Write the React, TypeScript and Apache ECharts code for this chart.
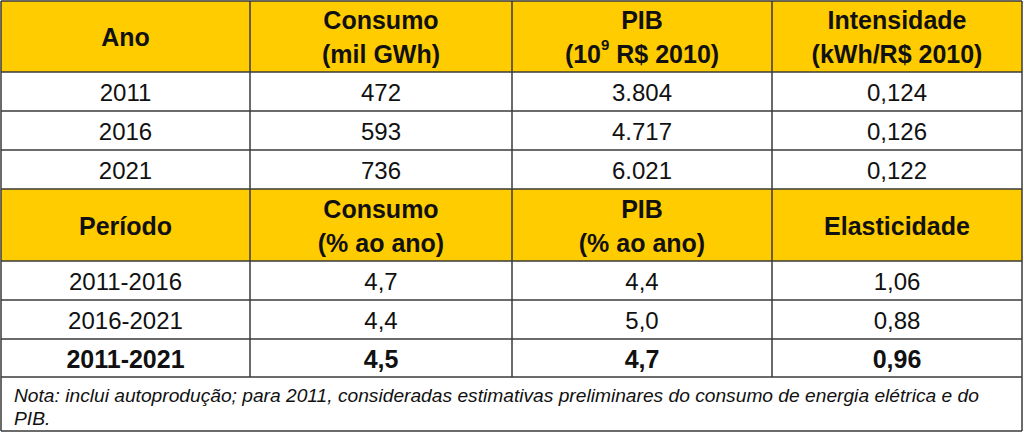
import React, { useEffect, useRef } from 'react';
import * as echarts from 'echarts';

const headerTop = ['Ano', 'Consumo\n(mil GWh)', 'PIB\n(10{sup|9} R$ 2010)', 'Intensidade\n(kWh/R$ 2010)'];
const years = ['2011', '2016', '2021'];
const consumo = ['472', '593', '736'];
const pib = ['3.804', '4.717', '6.021'];
const intensidade = ['0,124', '0,126', '0,122'];
const headerBottom = ['Período', 'Consumo\n(% ao ano)', 'PIB\n(% ao ano)', 'Elasticidade'];
const periods = ['2011-2016', '2016-2021', '2011-2021'];
const consumoPct = ['4,7', '4,4', '4,5'];
const pibPct = ['4,4', '5,0', '4,7'];
const elasticidade = ['1,06', '0,88', '0,96'];
const boldRows = [false, false, true];
const noteLines = [
  'Nota: inclui autoprodução; para 2011, consideradas estimativas preliminares do consumo de energia elétrica e do',
  'PIB.',
];

const colX = [1, 250, 512, 772, 1022];
const rowY = [1, 72, 111, 150, 189, 261, 300, 339, 377, 431];
const YELLOW = '#FFCC00';
const LINE = '#3a3a3a';
const FONT = '"Liberation Sans", Arial, Helvetica, sans-serif';

export default function App() {
  const ref = useRef<HTMLDivElement>(null);
  useEffect(() => {
    if (!ref.current) return;
    const chart = echarts.init(ref.current, undefined, { renderer: 'svg' });
    const els: any[] = [];
    const left = colX[0];
    const right = colX[colX.length - 1];
    els.push({ type: 'rect', shape: { x: left, y: rowY[0], width: right - left, height: rowY[1] - rowY[0] }, style: { fill: YELLOW } });
    els.push({ type: 'rect', shape: { x: left, y: rowY[4], width: right - left, height: rowY[5] - rowY[4] }, style: { fill: YELLOW } });

    const cx = (i: number) => (colX[i] + colX[i + 1]) / 2;
    const cy = (r: number) => (rowY[r] + rowY[r + 1]) / 2;

    const headerText = (txt: string, col: number, row: number) => ({
      type: 'text',
      x: cx(col),
      y: cy(row) + 0.5,
      style: {
        text: txt,
        fill: '#111',
        font: `bold 25px ${FONT}`,
        align: 'center',
        verticalAlign: 'middle',
        lineHeight: 34,
        rich: {
          sup: { font: `bold 15px ${FONT}`, fill: '#111', verticalAlign: 'top', lineHeight: 18 },
        },
      },
    });
    headerTop.forEach((t, i) => els.push(headerText(t, i, 0)));
    headerBottom.forEach((t, i) => els.push(headerText(t, i, 4)));

    const cellText = (txt: string, col: number, row: number, bold: boolean) => ({
      type: 'text',
      x: cx(col),
      y: cy(row) + 1,
      style: {
        text: txt,
        fill: '#111',
        font: `${bold ? 'bold 25px' : '24px'} ${FONT}`,
        align: 'center',
        verticalAlign: 'middle',
      },
    });
    years.forEach((y, r) => {
      els.push(cellText(y, 0, 1 + r, false));
      els.push(cellText(consumo[r], 1, 1 + r, false));
      els.push(cellText(pib[r], 2, 1 + r, false));
      els.push(cellText(intensidade[r], 3, 1 + r, false));
    });
    periods.forEach((p, r) => {
      const b = boldRows[r];
      els.push(cellText(p, 0, 5 + r, b));
      els.push(cellText(consumoPct[r], 1, 5 + r, b));
      els.push(cellText(pibPct[r], 2, 5 + r, b));
      els.push(cellText(elasticidade[r], 3, 5 + r, b));
    });

    noteLines.forEach((line, i) => {
      els.push({
        type: 'text',
        x: 14,
        y: 395 + i * 23,
        style: { text: line, fill: '#111', font: `italic 19.2px ${FONT}`, align: 'left', verticalAlign: 'middle' },
      });
    });

    rowY.forEach((y) => {
      els.push({ type: 'line', shape: { x1: left, y1: y, x2: right, y2: y }, style: { stroke: LINE, lineWidth: 1.5 } });
    });
    colX.forEach((x, i) => {
      const isEdge = i === 0 || i === colX.length - 1;
      els.push({
        type: 'line',
        shape: { x1: x, y1: rowY[0], x2: x, y2: isEdge ? rowY[rowY.length - 1] : rowY[rowY.length - 2] },
        style: { stroke: LINE, lineWidth: 1.5 },
      });
    });

    chart.setOption({ animation: false, graphic: { elements: els } });
    return () => chart.dispose();
  }, []);
  return (
    <div
      ref={ref}
      style={{ position: 'fixed', left: 0, top: 0, width: 1024, height: 432, background: '#fff' }}
    />
  );
}
